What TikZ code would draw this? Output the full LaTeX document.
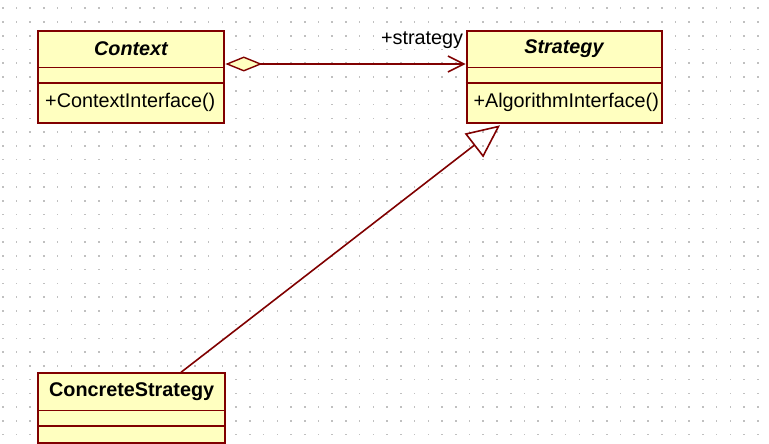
\documentclass[tikz,border=0pt]{standalone}
\usepackage{fontspec}
\setmainfont{Liberation Sans}
\usetikzlibrary{arrows.meta,calc}
\definecolor{umlred}{HTML}{800000}
\definecolor{umlfill}{HTML}{FFFFC0}
\definecolor{griddot}{HTML}{C0C0C0}
\tikzset{
  clsbox/.style={draw=umlred, fill=umlfill, line width=2pt, inner sep=0pt, anchor=north west},
  septhin/.style={draw=umlred, line width=1pt},
  septhick/.style={draw=umlred, line width=2pt},
  clsname/.style={inner sep=0pt, font=\fontsize{19.8}{22}\selectfont\bfseries},
  clsop/.style={inner sep=0pt, anchor=west, font=\fontsize{19.8}{22}\selectfont},
  conn/.style={draw=umlred, line width=1.6pt},
  rolelbl/.style={inner sep=0pt, anchor=base east, font=\fontsize{19.8}{22}\selectfont}
}
\begin{document}
\begin{tikzpicture}[x=1pt,y=-1pt]
\useasboundingbox (0,0) rectangle (769,444);
\fill[white] (0,0) rectangle (769,444);
% dot grid
\foreach \i in {0,...,55}{
  \foreach \j in {0,...,31}{
    \fill[griddot] ({2.7+13.73*\i-0.8},{8.3+13.75*\j-0.8}) rectangle ++(1.6,1.6);
  }
}
% Context
\node[clsbox, minimum width=186pt, minimum height=91.7pt] (ctx) at (37.3,30) {};
\draw[septhin] ($(ctx.north west)+(0,37.3)$) -- ($(ctx.north east)+(0,37.3)$);
\draw[septhick] ($(ctx.north west)+(0,52.7)$) -- ($(ctx.north east)+(0,52.7)$);
\node[clsname] (ctxname) at ($(ctx.north)+(0,18.6)$) {\textit{Context}};
\node[clsop] (ctxop) at ($(ctx.north west)+(7.7,72)$) {+ContextInterface()};
% Strategy
\node[clsbox, minimum width=195.3pt, minimum height=91.7pt] (str) at (465.7,30) {};
\draw[septhin] ($(str.north west)+(0,37.3)$) -- ($(str.north east)+(0,37.3)$);
\draw[septhick] ($(str.north west)+(0,52.7)$) -- ($(str.north east)+(0,52.7)$);
\node[clsname] (strname) at ($(str.north)+(0,18.6)$) {\textit{Strategy}};
\node[clsop] (strop) at ($(str.north west)+(7.6,72)$) {+AlgorithmInterface()};
% ConcreteStrategy
\node[clsbox, minimum width=186.7pt, minimum height=70pt] (cs) at (37.3,372.3) {};
\draw[septhin] ($(cs.north west)+(0,38.4)$) -- ($(cs.north east)+(0,38.4)$);
\draw[septhick] ($(cs.north west)+(0,53.7)$) -- ($(cs.north east)+(0,53.7)$);
\node[clsname] (csname) at ($(cs.north)+(0,19.5)$) {ConcreteStrategy};
% aggregation
\draw[conn, {Diamond[open, fill=umlfill, length=37pt, width=15pt, line width=1.4pt]}-{Straight Barb[length=16pt, width=16pt, line width=1.6pt]}]
  ($(ctx.north east)+(0,34)$) -- ($(str.north west)+(0,34)$);
\node[rolelbl] (role) at ($(str.north west)+(-2.4,15)$) {+strategy};
% generalization
\draw[conn, -{Triangle[open, length=33pt, width=30pt, line width=1.6pt]}]
  ($(cs.north west)+(143.7,0)$) -- ($(str.south west)+(34.3,1.6)$);
\end{tikzpicture}
\end{document}
